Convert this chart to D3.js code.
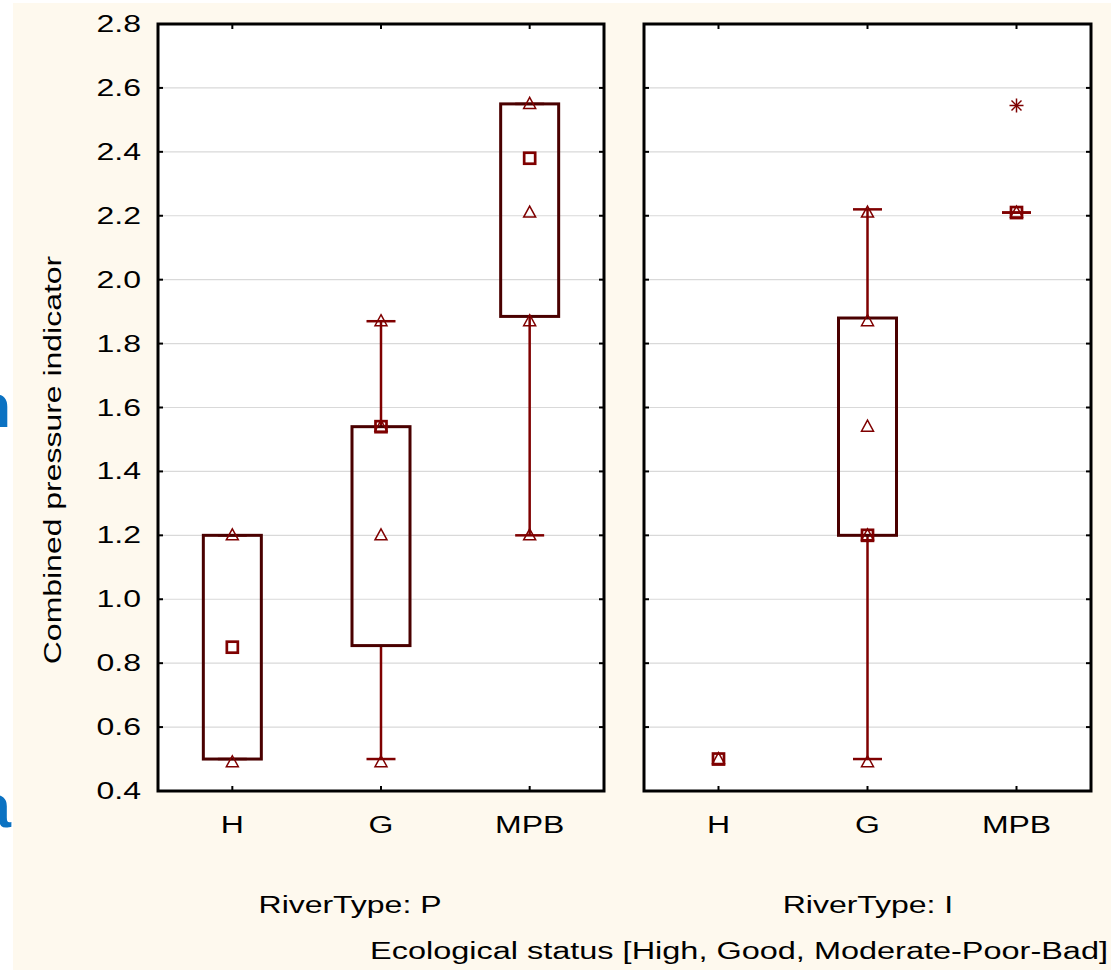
<!DOCTYPE html>
<html>
<head>
<meta charset="utf-8">
<script src="https://cdn.jsdelivr.net/npm/d3@7"></script>
<style>
html,body{margin:0;padding:0;background:#ffffff;}
svg{display:block;}
text{font-family:"Liberation Sans",Arial,sans-serif;fill:#000;}
</style>
</head>
<body>
<svg id="chart" width="1111" height="970"></svg>
<script>
// ---- data ----
const categories = ["H", "G", "MPB"];
const riverTypes = ["P", "I"];
const yTicks = [0.4, 0.6, 0.8, 1.0, 1.2, 1.4, 1.6, 1.8, 2.0, 2.2, 2.4, 2.6, 2.8];
// per river type, per category
const medianP = [0.85, 1.54, 2.38];
const medianI = [0.50, 1.20, 2.21];
const q1P = [0.50, 0.855, 1.885];
const q1I = [null, 1.20, 2.21];
const q3P = [1.20, 1.54, 2.55];
const q3I = [null, 1.88, 2.21];
const minP = [0.50, 0.50, 1.20];
const minI = [null, 0.50, 2.21];
const maxP = [1.20, 1.87, 2.55];
const maxI = [null, 2.22, 2.21];
const pointsP = [[1.20, 0.49], [1.87, 1.54, 1.20, 0.49], [2.55, 2.21, 1.87, 1.20]];
const pointsI = [[0.50], [2.21, 1.87, 1.54, 1.20, 0.49], [2.21]];
const outliersP = [[], [], []];
const outliersI = [[], [], [2.545]];
const yTitle = "Combined pressure indicator";
const xTitle = "Ecological status [High, Good, Moderate-Poor-Bad]";

// ---- layout ----
const svg = d3.select("#chart");
const SX = 1.39; // horizontal glyph stretch seen in the reference
const boxColor = "#4a0000", whiskColor = "#7f0000";

svg.append("rect").attr("x", 13).attr("y", 3).attr("width", 1098).attr("height", 967).attr("fill", "#fef9ee");

// cropped blue letters at the left edge
const clip = svg.append("clipPath").attr("id", "lclip");
clip.append("rect").attr("x", 0).attr("y", 0).attr("width", 13).attr("height", 970);
const lg = svg.append("g").attr("clip-path", "url(#lclip)");
[["n", 427], ["a", 827]].forEach(([t, yy]) => {
  lg.append("text").attr("x", 11).attr("y", yy).attr("text-anchor", "end")
    .style("font-size", "62px").style("font-weight", "bold").style("fill", "#0b72c2").text(t);
});

const y = d3.scaleLinear().domain([0.4, 2.8]).range([791, 24]);

const panels = [
  {type: "P", x0: 158, x1: 604, med: medianP, q1: q1P, q3: q3P, mn: minP, mx: maxP, pts: pointsP, out: outliersP, labelX: 350},
  {type: "I", x0: 644, x1: 1091, med: medianI, q1: q1I, q3: q3I, mn: minI, mx: maxI, pts: pointsI, out: outliersI, labelX: 868}
];

function stext(g, x, yy, str, anchor, size) {
  g.append("text").attr("transform", `translate(${x},${yy}) scale(${SX},1)`)
    .attr("text-anchor", anchor).style("font-size", size + "px").text(str);
}

const boxW = 58, capW = 29, tickL = 5;
const triPath = "M0,-6.5 L6,4.5 L-6,4.5 Z";

panels.forEach((p, pi) => {
  const g = svg.append("g");
  const x = d3.scaleBand().domain(categories).range([p.x0, p.x1]);
  const cx = c => x(c) + x.bandwidth() / 2;

  g.append("rect").attr("x", p.x0).attr("y", y(2.8)).attr("width", p.x1 - p.x0)
    .attr("height", y(0.4) - y(2.8)).attr("fill", "#fff");

  // grid
  g.selectAll(".grid").data(yTicks.filter(t => t > 0.4 && t < 2.8)).enter().append("line")
    .attr("x1", p.x0).attr("x2", p.x1).attr("y1", d => y(d)).attr("y2", d => y(d))
    .attr("stroke", "#d9d9d9").attr("stroke-width", 1.2);

  categories.forEach((c, i) => {
    const X = cx(c);
    const mn = p.mn[i], mx = p.mx[i], q1 = p.q1[i], q3 = p.q3[i];
    if (mn !== null) {
      // whiskers
      g.append("line").attr("x1", X).attr("x2", X).attr("y1", y(mx)).attr("y2", y(q3))
        .attr("stroke", whiskColor).attr("stroke-width", 2.5);
      g.append("line").attr("x1", X).attr("x2", X).attr("y1", y(q1)).attr("y2", y(mn))
        .attr("stroke", whiskColor).attr("stroke-width", 2.5);
      [mn, mx].forEach(v => {
        g.append("line").attr("x1", X - capW / 2).attr("x2", X + capW / 2).attr("y1", y(v)).attr("y2", y(v))
          .attr("stroke", whiskColor).attr("stroke-width", 2.5);
      });
    }
    if (q1 !== null && q3 > q1) {
      g.append("rect").attr("x", X - boxW / 2).attr("y", y(q3)).attr("width", boxW)
        .attr("height", y(q1) - y(q3)).attr("fill", "none").attr("stroke", boxColor).attr("stroke-width", 3);
    }
    // raw points (triangles)
    p.pts[i].forEach(v => {
      g.append("path").attr("d", triPath).attr("transform", `translate(${X},${y(v)})`)
        .attr("fill", "none").attr("stroke", whiskColor).attr("stroke-width", 1.5);
    });
    // median square
    g.append("rect").attr("x", X - 5.5).attr("y", y(p.med[i]) - 5.5).attr("width", 11).attr("height", 11)
      .attr("fill", "none").attr("stroke", whiskColor).attr("stroke-width", 2.7);
    // outliers (asterisk)
    p.out[i].forEach(v => {
      const s = 7, d = 5;
      const a = g.append("g").attr("transform", `translate(${X},${y(v)})`)
        .attr("stroke", whiskColor).attr("stroke-width", 1.5);
      a.append("line").attr("x1", -s).attr("x2", s).attr("y1", 0).attr("y2", 0);
      a.append("line").attr("x1", 0).attr("x2", 0).attr("y1", -s).attr("y2", s);
      a.append("line").attr("x1", -d).attr("x2", d).attr("y1", -d).attr("y2", d);
      a.append("line").attr("x1", -d).attr("x2", d).attr("y1", d).attr("y2", -d);
    });
    // x ticks top and bottom (inward)
    g.append("line").attr("x1", X).attr("x2", X).attr("y1", y(2.8)).attr("y2", y(2.8) + tickL)
      .attr("stroke", "#000").attr("stroke-width", 2);
    g.append("line").attr("x1", X).attr("x2", X).attr("y1", y(0.4)).attr("y2", y(0.4) - tickL)
      .attr("stroke", "#000").attr("stroke-width", 2);
    stext(g, X, 833, c, "middle", 23);
  });

  // y ticks both sides inward
  yTicks.forEach(t => {
    g.append("line").attr("x1", p.x0).attr("x2", p.x0 + tickL).attr("y1", y(t)).attr("y2", y(t))
      .attr("stroke", "#000").attr("stroke-width", 2);
    g.append("line").attr("x1", p.x1).attr("x2", p.x1 - tickL).attr("y1", y(t)).attr("y2", y(t))
      .attr("stroke", "#000").attr("stroke-width", 2);
  });

  g.append("rect").attr("x", p.x0).attr("y", y(2.8)).attr("width", p.x1 - p.x0)
    .attr("height", y(0.4) - y(2.8)).attr("fill", "none").attr("stroke", "#000").attr("stroke-width", 3);

  stext(g, p.labelX, 913, "RiverType: " + p.type, "middle", 23);
});

// y tick labels (left panel only)
const fmt = d3.format(".1f");
yTicks.forEach(t => stext(svg, 141, y(t) + 8, fmt(t), "end", 23));

// axis titles
svg.append("text").attr("transform", `translate(61,460) rotate(-90) scale(${SX},1)`)
  .attr("text-anchor", "middle").style("font-size", "23px").text(yTitle);
svg.append("text").attr("x", 370).attr("y", 959).attr("textLength", 738).attr("lengthAdjust", "spacingAndGlyphs")
  .style("font-size", "23px").text(xTitle);
</script>
</body>
</html>
